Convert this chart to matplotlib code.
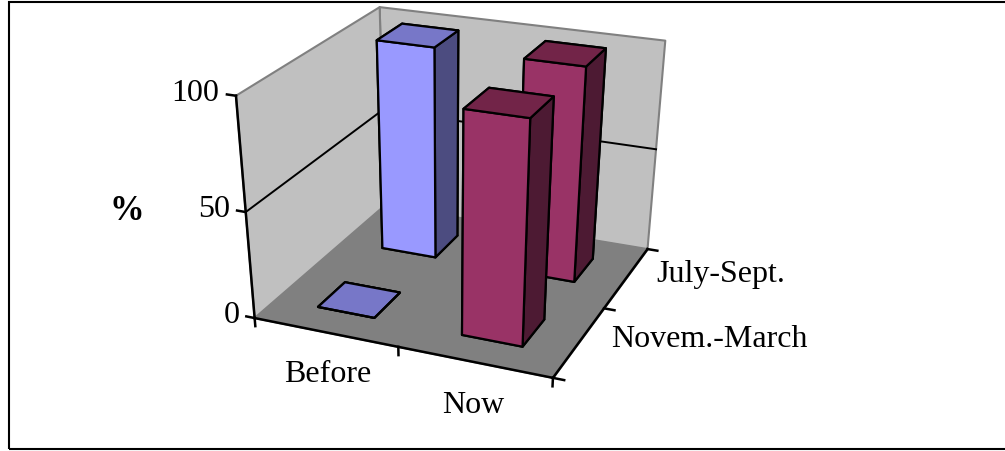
import matplotlib.pyplot as plt
from matplotlib.patches import Rectangle
from mpl_toolkits.mplot3d import proj3d
from mpl_toolkits.mplot3d.art3d import Poly3DCollection

periods = ['Before', 'Now']
seasons = ['Novem.-March', 'July-Sept.']   # front row, back row
# share in %, one value per season
before = [0, 100]
now = [100, 100]
z_ticks = [0, 50, 100]

front_colors = ['#9999FF', '#993366']
top_colors = ['#7777C8', '#722448']
side_colors = ['#4C4C80', '#4D1A33']

plt.rcParams['font.family'] = ['Liberation Serif', 'DejaVu Serif']
plt.rcParams['font.size'] = 23

fig = plt.figure(figsize=(10.05, 4.51), dpi=100)
ax = fig.add_axes([-1.3381, -1.9509, 3.4988, 3.4988], projection='3d')
ax.set_axis_off()
ax.computed_zorder = False

# camera: strong perspective, looking down from the front right
ax.set_proj_type('persp', focal_length=0.1703)
ax.view_init(elev=34.85, azim=-66.61, roll=0.33)
ax.set_xlim(-1.414, 4.586)
ax.set_ylim(-3.824, 2.176)
ax.set_zlim(-193.2, 106.8)
ax.set_box_aspect((6, 5.897, 4.281))

nx, ny, ztop = len(periods), len(seasons), z_ticks[-1]


def label(x, y, z, s, **kw):
    # place flat text at the projected position of a 3D point
    px, py, _ = proj3d.proj_transform(x, y, z, ax.get_proj())
    ax.text2D(px, py, s, transform=ax.transData, zorder=5, **kw)


# walls and floor
walls = [[(0, 0, 0), (0, ny, 0), (0, ny, ztop), (0, 0, ztop)],
         [(0, ny, 0), (nx, ny, 0), (nx, ny, ztop), (0, ny, ztop)]]
ax.add_collection3d(Poly3DCollection(walls, facecolor='#C0C0C0', edgecolor='#808080',
                                     linewidth=1.5, zorder=1))
floor = [[(0, 0, 0), (nx, 0, 0), (nx, ny, 0), (0, ny, 0)]]
ax.add_collection3d(Poly3DCollection(floor, facecolor='#808080', edgecolor='#808080',
                                     linewidth=1.0, zorder=1.5))

# gridlines on the walls
for z in z_ticks[1:-1]:
    ax.plot([0, 0, nx], [0, ny, ny], [z, z, z], color='black', lw=1.4, zorder=2)

# axis lines and tick marks
ax.plot([0, nx], [0, 0], [0, 0], color='black', lw=1.8, zorder=3)
ax.plot([nx, nx], [0, ny], [0, 0], color='black', lw=1.8, zorder=3)
ax.plot([0, 0], [0, 0], [0, ztop], color='black', lw=1.8, zorder=3)
for i in range(nx + 1):
    ax.plot([i, i], [0, 0], [0, -4], color='black', lw=1.8, zorder=3)
for j in range(ny + 1):
    ax.plot([nx, nx + 0.07], [j, j], [0, 0], color='black', lw=1.8, zorder=3)
for z in z_ticks:
    ax.plot([0, -0.06], [0, 0], [z, z], color='black', lw=1.8, zorder=3)

# bars
xs, ys, heights, colors = [], [], [], []
for i, vals in enumerate([before, now]):
    for j, v in enumerate(vals):
        xs.append(i + 0.3)
        ys.append(j + 0.3)
        heights.append(v)
        # face order: -z, +z, -y, +y, -x, +x
        colors += [top_colors[i], top_colors[i], front_colors[i],
                   front_colors[i], side_colors[i], side_colors[i]]
ax.bar3d(xs, ys, [0] * len(xs), 0.4, 0.4, heights, color=colors, shade=False,
         edgecolor='black', linewidth=1.6, zorder=4)

# labels
for z in z_ticks:
    label(-0.11, 0, z, str(z), ha='right', va='center')
for i, name in enumerate(periods):
    label(i + 0.5, 0, -21, name, ha='center', va='center')
for j, name in enumerate(seasons):
    label(nx + 0.2, j + 0.5, 4, name, ha='left', va='center')
fig.text(127 / 1005, 1 - 212 / 451, '%', fontweight='bold', fontsize=25,
         ha='center', va='center')

fig.add_artist(Rectangle((9 / 1005, 2 / 451), 1.0, 447 / 451, transform=fig.transFigure,
                         fill=False, edgecolor='black', linewidth=1.5))

fig.savefig('out.png', dpi=100)
